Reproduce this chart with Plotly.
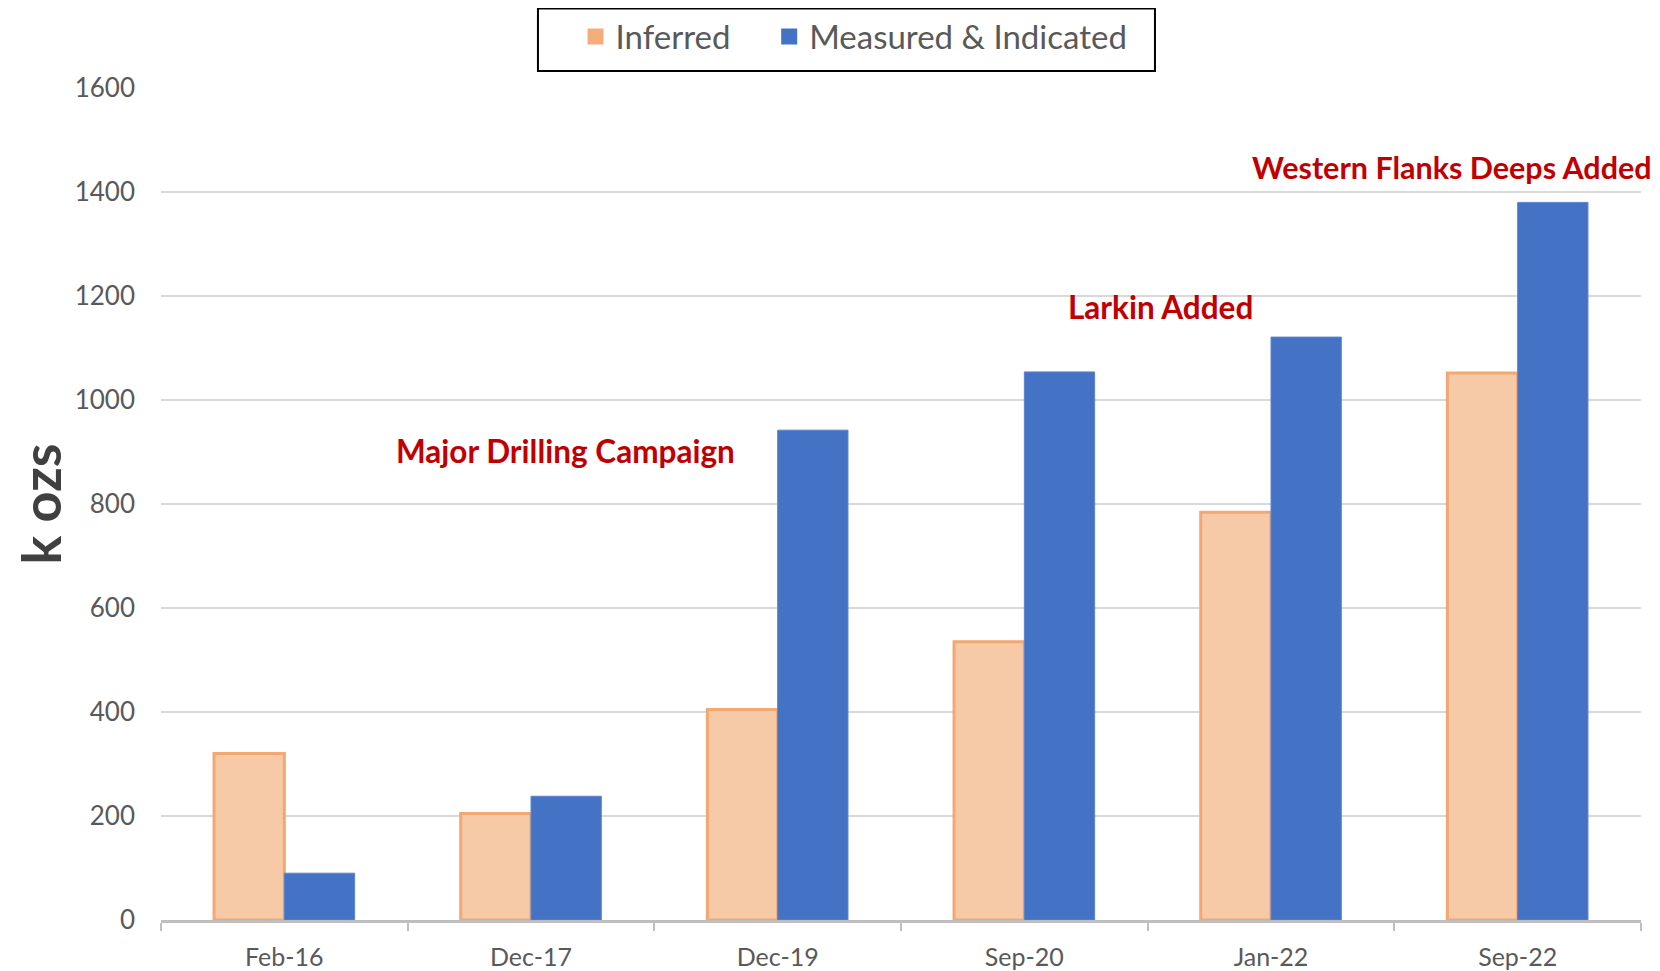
import plotly.graph_objects as go

categories = ["Feb-16", "Dec-17", "Dec-19", "Sep-20", "Jan-22", "Sep-22"]
inferred = [320, 205, 405, 535, 784, 1052]
measured_indicated = [90, 238, 942, 1054, 1121, 1380]
y_ticks = [0, 200, 400, 600, 800, 1000, 1200, 1400, 1600]

notes = [
    ("Major Drilling Campaign", 1.138, 902, 31.5),
    ("Larkin Added", 3.554, 1179, 31.5),
    ("Western Flanks Deeps Added", 4.735, 1448, 30.5),
]

FONT = "Lato"
TICK_COLOR = "#595959"

fig = go.Figure()
fig.add_trace(go.Bar(
    x=categories, y=inferred, name="Inferred", showlegend=False,
    marker=dict(color="#F6C9A7", line=dict(color="#F3A872", width=3)),
))
fig.add_trace(go.Bar(
    x=categories, y=measured_indicated, name="Measured & Indicated", showlegend=False,
    marker=dict(color="#4472C4", line=dict(color="#5A84CE", width=1)),
))
# legend entries
fig.add_trace(go.Scatter(
    x=[None], y=[None], mode="markers", name="Inferred" + "\u00a0" * 4,
    marker=dict(symbol="square", size=16, color="#F4AE7C", line=dict(width=0)),
))
fig.add_trace(go.Scatter(
    x=[None], y=[None], mode="markers", name="Measured & Indicated",
    marker=dict(symbol="square", size=16, color="#4472C4", line=dict(width=0)),
))

for text, xi, yv, fs in notes:
    fig.add_annotation(
        x=xi, y=yv, xref="x", yref="y", text=f"<b>{text}</b>", showarrow=False,
        font=dict(family=FONT, size=fs, color="#C00000"),
        xanchor="center", yanchor="middle",
    )

fig.add_shape(
    type="rect", xref="paper", yref="paper",
    x0=0.2547, x1=0.6716, y0=1.0204, y1=1.0955,
    line=dict(color="black", width=2), fillcolor="rgba(0,0,0,0)",
)

fig.update_layout(
    width=1652, height=963,
    margin=dict(l=153, r=19, t=80, b=51, autoexpand=False),
    paper_bgcolor="white", plot_bgcolor="white",
    barmode="group", bargap=0.43, bargroupgap=0,
    font=dict(family=FONT, color=TICK_COLOR),
    legend=dict(
        orientation="h", x=0.2801, xanchor="left", y=1.0955, yanchor="top",
        font=dict(family=FONT, size=33, color=TICK_COLOR),
        bgcolor="rgba(0,0,0,0)", borderwidth=0,
    ),
    xaxis=dict(
        type="category", range=[-0.5, 5.5], automargin=False,
        showgrid=False, showline=True, linecolor="#BFBFBF", linewidth=3,
        ticks="outside", tickson="boundaries", ticklen=8, tickwidth=2, tickcolor="#BFBFBF",
        tickfont=dict(family=FONT, size=25, color=TICK_COLOR),
        ticklabelstandoff=13,
        zeroline=False,
    ),
    yaxis=dict(
        range=[0, 1600], tickvals=y_ticks, automargin=False,
        showgrid=True, gridcolor="#D9D9D9", gridwidth=2,
        zeroline=False, showline=False, ticks="",
        tickfont=dict(family=FONT, size=26, color=TICK_COLOR),
        ticklabelstandoff=25,
        title=dict(text="<b>k ozs</b>",
                   font=dict(family=FONT, size=54, color="#404040")),
    ),
)

fig.write_html("out.html")
